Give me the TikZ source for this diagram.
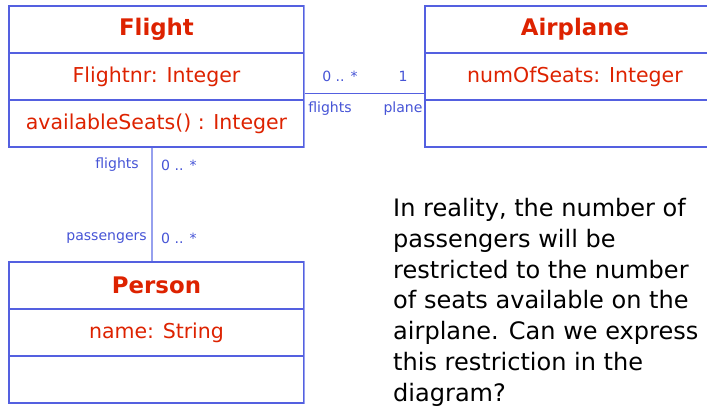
\documentclass[tikz,border=0pt]{standalone}
\usepackage{fontspec}
\setmainfont{DejaVu Sans}
\usetikzlibrary{positioning}

\definecolor{classred}{RGB}{221,34,0}
\definecolor{boxblue}{RGB}{84,96,224}
\definecolor{linkblue}{RGB}{150,160,238}
\definecolor{labelblue}{RGB}{70,84,214}

\tikzset{class title/.style={draw=boxblue,line width=1pt,minimum width=8.85cm,minimum height=1.41cm,inner sep=0cm,text=classred,font=\fontsize{19.5}{23}\selectfont\bfseries},
class field/.style={draw=boxblue,line width=1pt,minimum width=8.85cm,minimum height=1.41cm,inner sep=0cm,text=classred,font=\fontsize{17.5}{21}\selectfont},
plane field/.style={class field,minimum width=9cm},
plane title/.style={class title,minimum width=9cm},
role label/.style={font=\fontsize{12}{14}\selectfont,text=labelblue,inner sep=0.03cm},
link/.style={draw=linkblue,line width=1.3pt},
assoc/.style={draw=boxblue,line width=1pt},
note/.style={font=\fontsize{20.5}{26.3}\selectfont,align=left,anchor=north west,inner sep=0cm}}

\begin{document}
\begin{tikzpicture}[x=0.03cm,y=-0.03cm]
\useasboundingbox (0,0) rectangle (707,413);

%% Coordinates of the class compartments.
\coordinate (c-flight) at (156.5,29.5);
\coordinate (c-flightattr) at (156.5,76.5);
\coordinate (c-flightop) at (156.5,123.5);
\coordinate (c-plane) at (575,29.5);
\coordinate (c-planeattr) at (575,76.5);
\coordinate (c-planeop) at (575,123.5);
\coordinate (c-person) at (156.5,285.5);
\coordinate (c-personattr) at (156.5,332.5);
\coordinate (c-personop) at (156.5,379.5);

%% classes
\node [class title] (flight) at (c-flight) {Flight};
\node [class field] (flightattr) at (c-flightattr) {Flightnr: Integer};
\node [class field] (flightop) at (c-flightop) {availableSeats() : Integer};
\node [plane title] (plane) at (c-plane) {Airplane};
\node [plane field] (planeattr) at (c-planeattr) {numOfSeats: Integer};
\node [plane field] (planeop) at (c-planeop) {};
\node [class title] (person) at (c-person) {Person};
\node [class field] (personattr) at (c-personattr) {name: String};
\node [class field] (personop) at (c-personop) {};

% lighter right edges
\draw [link] (flight.north east) -- (flightop.south east);
\draw [link] (person.north east) -- (personop.south east);

%% associations
\path (flightop.north east) ++(0,-6) coordinate (fp-start);
\path (flightop.south) ++(-4.5,0) coordinate (pf-start);
\draw [assoc] (fp-start) -- (fp-start -| planeop.west);
\draw [link] (pf-start) -- (pf-start |- person.north);

%% role names and multiplicities
\node [role label] (mult-flights) at (340,76) {0 .. *};
\node [role label] (mult-plane) at (403,76) {1};
\node [role label] (role-flights) at (330,109) {flights};
\node [role label] (role-plane) at (403,109) {plane};
\node [role label,anchor=east] (role-pflights) at (140,165) {flights};
\node [role label,anchor=west] (mult-pflights) at (160,165) {0 .. *};
\node [role label,anchor=east] (role-passengers) at (148,238) {passengers};
\node [role label,anchor=west] (mult-passengers) at (160,238) {0 .. *};

%% question text
\node [note] (question) at (393,198) {In reality, the number of\\passengers will be\\restricted to the number\\of seats available on the\\airplane. Can we express\\this restriction in the\\diagram?};

\end{tikzpicture}
\end{document}
